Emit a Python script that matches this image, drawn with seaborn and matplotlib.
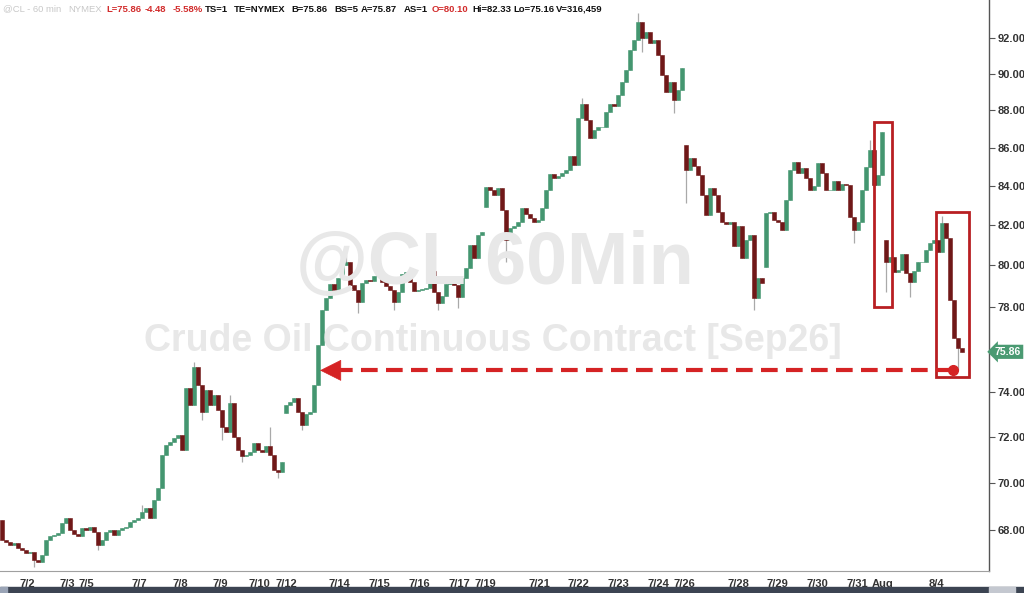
import numpy as np
import matplotlib
matplotlib.use('Agg')
import matplotlib.pyplot as plt
from matplotlib.patches import Rectangle
from matplotlib.ticker import FixedLocator, FixedFormatter, NullLocator
import seaborn as sns

sns.set_style('white')
plt.rcParams['font.family'] = ['Liberation Sans', 'DejaVu Sans']

# hourly closes, one list per stretch of trading; first open of each stretch
seg_opens = [68.42, 73.07, 82.93, 86.14, 79.92, 81.26]
closes_a = [67.58, 67.50, 67.37, 67.46, 67.25, 67.17, 67.05, 67.09, 66.76, 66.67,
            66.96, 67.58, 67.74, 67.79, 67.87, 68.29, 68.50, 67.99, 67.83, 67.74,
            68.08, 67.99, 68.12, 67.91, 67.37, 67.58, 67.91, 67.99, 67.79, 67.99,
            68.08, 68.12, 68.33, 68.42, 68.50, 68.75, 68.92, 68.50, 69.26, 69.77,
            71.21, 71.64, 71.77, 71.95, 72.08, 71.42, 74.19, 73.43, 75.16, 74.33,
            73.11, 74.10, 73.43, 73.87, 73.20, 72.44, 72.22, 73.52, 71.99, 71.42,
            71.16, 71.21, 71.34, 71.73, 71.42, 71.34, 71.60, 71.21, 70.55, 70.46,
            70.90]
closes_b = [73.43, 73.56, 73.74, 73.11, 72.53, 73.02, 73.11, 74.33, 76.18, 77.84,
            78.42, 79.10, 78.81, 79.39, 80.02, 80.17, 79.05, 78.81, 78.23, 79.15,
            79.29, 79.24, 79.49, 79.63, 79.19, 79.00, 78.81, 78.23, 78.71, 79.58,
            79.68, 79.19, 78.76, 78.81, 78.86, 78.90, 79.73, 78.71, 78.17, 78.51,
            79.10, 79.15, 79.05, 78.47, 79.39, 79.87, 81.01, 80.37, 81.51, 81.66]
closes_c = [83.95, 83.80, 83.54, 83.90, 82.78, 81.26, 81.86, 81.96, 82.16, 82.88,
            82.57, 82.37, 82.16, 82.27, 82.88, 83.80, 84.63, 84.42, 84.52, 84.68,
            84.84, 85.57, 85.10, 87.59, 88.35, 87.48, 86.52, 86.95, 87.11, 87.11,
            87.91, 88.35, 88.24, 88.84, 89.55, 90.21, 91.33, 91.89, 92.91, 92.00,
            92.34, 91.72, 91.89, 91.05, 89.93, 89.00, 89.55, 88.56, 89.11, 90.32]
closes_d = [84.84, 85.46, 85.04, 84.57, 83.54, 82.52, 83.90, 83.54, 82.67, 82.16,
            82.06, 82.16, 80.97, 81.96, 80.37, 81.26, 81.51, 78.42, 79.39, 79.15]
closes_e = [82.62, 82.67, 82.27, 82.16, 81.76, 83.29, 84.84, 85.25, 84.68, 84.94,
            84.42, 83.80, 84.00, 85.20, 84.68, 83.80, 83.80, 84.26, 83.80, 84.11,
            84.05, 82.42, 81.76, 82.16, 83.80, 84.99, 85.88, 84.05, 84.57, 86.84]
closes_f = [80.17, 80.42, 79.68, 79.78, 80.57, 79.63, 79.19, 79.73, 80.17, 80.17,
            80.77, 81.11, 81.26, 80.67, 82.11, 81.36, 78.32, 76.51, 76.04, 75.86]

# wick extremes beyond the bodies (bar number -> price)
wick_high = {35: 69.05, 48: 75.40, 57: 73.87, 67: 72.44, 86: 80.50, 145: 88.67,
             159: 93.43, 217: 86.41, 235: 82.46}
wick_low = {8: 66.47, 24: 67.17, 50: 72.76, 55: 71.86, 60: 70.90, 69: 70.20,
            75: 72.31, 89: 77.70, 98: 77.84, 109: 77.84, 114: 77.93, 126: 80.17,
            160: 91.22, 168: 87.86, 171: 83.13, 188: 77.84, 213: 81.11, 221: 78.71,
            227: 78.47, 239: 75.03}

date_labels = ['7/2', '7/3', '7/5', '7/7', '7/8', '7/9', '7/10', '7/12', '7/14', '7/15',
               '7/16', '7/17', '7/19', '7/21', '7/22', '7/23', '7/24', '7/26', '7/28',
               '7/29', '7/30', '7/31', 'Aug', '8/4']
date_bars = [6.25, 16.25, 21, 34.25, 44.5, 54.5, 64.25, 71, 84.25, 94.25,
             104.25, 114.25, 120.75, 134.25, 144, 154, 164, 170.5, 184,
             193.75, 203.75, 213.75, 220.25, 233.5]
price_ticks = [68, 70, 72, 74, 76, 78, 80, 82, 84, 86, 88, 90, 92]
last_price = 75.86

opens, closes = [], []
for o, cs in zip(seg_opens, [closes_a, closes_b, closes_c, closes_d, closes_e, closes_f]):
    opens += [o] + cs[:-1]
    closes += cs
opens = np.array(opens)
closes = np.array(closes)
bars = np.arange(len(closes))
highs = np.maximum(opens, closes)
lows = np.minimum(opens, closes)
for k, v in wick_high.items():
    highs[k] = max(highs[k], v)
for k, v in wick_low.items():
    lows[k] = min(lows[k], v)
up = closes >= opens

fig = plt.figure(figsize=(10.24, 5.93), dpi=100)
ax = fig.add_axes([0, 22 / 593, 989 / 1024, 571 / 593])
ax.set_yscale('log')

# watermark
fig.text(495 / 1024, 1 - 265 / 593, '@CL 60Min', fontsize=53, fontweight='bold',
         color='#e8e8e8', ha='center', va='center', zorder=0)
fig.text(493 / 1024, 1 - 341 / 593, 'Crude Oil Continuous Contract [Sep26]', fontsize=27,
         fontweight='bold', color='#e8e8e8', ha='center', va='center', zorder=0)
ax.patch.set_alpha(0)

green, maroon = '#449670', '#701818'
ax.vlines(bars, lows, highs, color='#a9a9a9', lw=0.9, zorder=2)
ax.bar(bars[up], closes[up] - opens[up], bottom=opens[up], width=0.82,
       color=green, edgecolor=green, lw=0.4, zorder=3)
ax.bar(bars[~up], opens[~up] - closes[~up], bottom=closes[~up], width=0.82,
       color=maroon, edgecolor=maroon, lw=0.4, zorder=3)

# annotations
red_box = '#b81f22'
red = '#d52324'
ax.add_patch(Rectangle((218, 77.98), 4.5, 87.37 - 77.98, fill=False, ec=red_box, lw=2, zorder=5))
ax.add_patch(Rectangle((233.5, 74.70), 8.25, 82.66 - 74.70, fill=False, ec=red_box, lw=2, zorder=5))
ax.plot([83.5, 237.7], [75.0, 75.0], color=red, lw=3, dashes=(4, 2), zorder=5)
ax.annotate('', xy=(79.5, 75.0), xytext=(84.5, 75.0),
            arrowprops=dict(arrowstyle='-|>,head_length=0.9,head_width=0.45', color=red,
                            lw=0.5, mutation_scale=16, shrinkA=0, shrinkB=0), zorder=6)
ax.plot([237.7], [75.0], 'o', ms=7, color=red, zorder=6)

ax.set_xlim(-0.5, 246.75)
ax.set_ylim(66.30, 94.17)

# the 76.00 label sits under the last-price tag, so it is left blank
ax.yaxis.tick_right()
ax.yaxis.set_major_locator(FixedLocator(price_ticks))
ax.yaxis.set_major_formatter(FixedFormatter(['' if v == 76 else f'{v:.2f}' for v in price_ticks]))
ax.yaxis.set_minor_locator(NullLocator())
ax.tick_params(axis='y', direction='out', length=4, width=0.8, color='#555555',
               labelsize=8, labelcolor='#333333', pad=2)
for lab in ax.get_yticklabels():
    lab.set_fontweight('bold')

ax.set_xticks(date_bars)
ax.set_xticklabels(date_labels, fontsize=8, fontweight='bold', color='#333333')
ax.tick_params(axis='x', direction='inout', length=7, width=0.8, color='#888888', pad=2)

for s in ['top', 'left']:
    ax.spines[s].set_visible(False)
ax.spines['bottom'].set_color('#a0a0a0')
ax.spines['right'].set_color('#555555')
ax.spines['right'].set_linewidth(1)

# last price tag on the axis
ax.text(1.006, last_price, f'{last_price:.2f}', transform=ax.get_yaxis_transform(),
        fontsize=7.5, fontweight='bold', color='white', va='center', ha='left',
        bbox=dict(boxstyle='larrow,pad=0.2', fc='#4a9a72', ec='none'), clip_on=False, zorder=7)

# header line
header = [(3, '@CL - 60 min', '#c8c8c8', 'normal'), (68, 'NYMEX', '#c8c8c8', 'normal'),
          (106, 'L=75.86', '#d22c2c', 'bold'), (145, '-4.48', '#d22c2c', 'bold'),
          (173, '-5.58%', '#d22c2c', 'bold'), (205, 'TS=1', '#111111', 'bold'),
          (234, 'TE=NYMEX', '#111111', 'bold'), (291, 'B=75.86', '#111111', 'bold'),
          (334, 'BS=5', '#111111', 'bold'), (361, 'A=75.87', '#111111', 'bold'),
          (404, 'AS=1', '#111111', 'bold'), (432, 'O=80.10', '#d22c2c', 'bold'),
          (472, 'Hi=82.33', '#111111', 'bold'), (513, 'Lo=75.16', '#111111', 'bold'),
          (556, 'V=316,459', '#111111', 'bold')]
for x, s, c, w in header:
    fig.text(x / 1024, 1 - 9 / 593, s, fontsize=6.8, color=c, fontweight=w, va='center', ha='left')

# bottom scroll bar
fig.patches.append(Rectangle((0, 0), 1, 6 / 593, transform=fig.transFigure, color='#3c4452', zorder=1))
fig.patches.append(Rectangle((0, 0), 7 / 1024, 6 / 593, transform=fig.transFigure, color='#9aa4b6', zorder=2))
fig.patches.append(Rectangle((989 / 1024, 0), 26 / 1024, 6 / 593, transform=fig.transFigure, color='#c4c8d0', zorder=2))

fig.savefig('out.png', dpi=100)
